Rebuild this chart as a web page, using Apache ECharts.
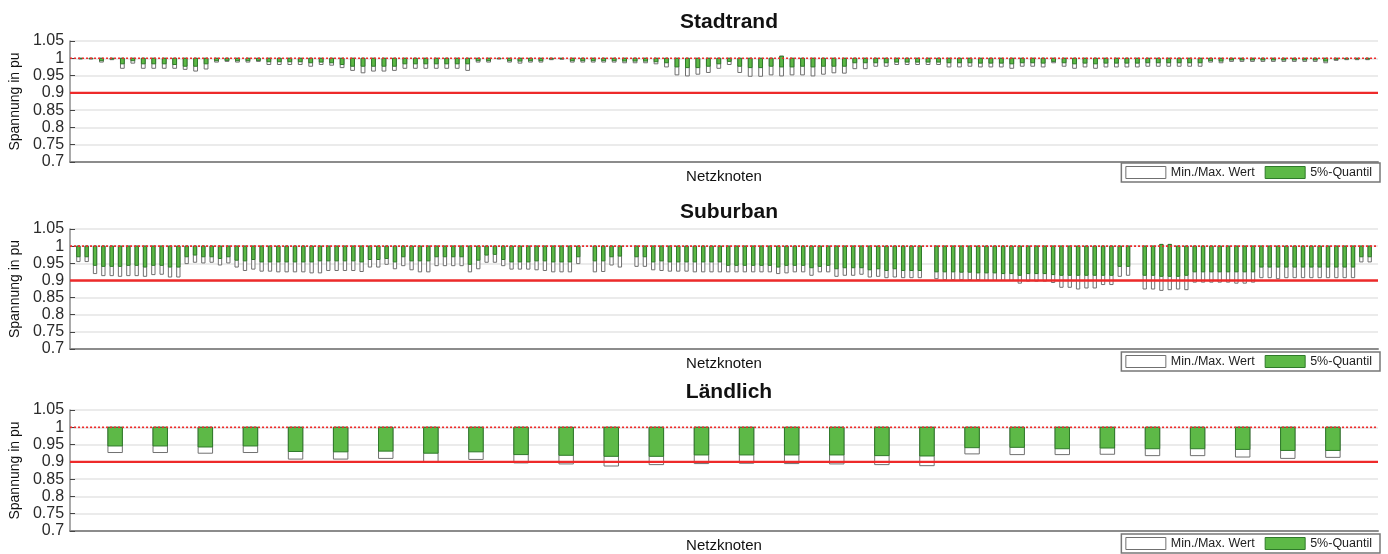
<!DOCTYPE html>
<html>
<head>
<meta charset="utf-8">
<script src="https://cdn.jsdelivr.net/npm/echarts@6/dist/echarts.min.js"></script>
<style>
  html, body { margin: 0; padding: 0; background: #ffffff; }
  #chart { width: 1388px; height: 554px; }
</style>
</head>
<body>
<div id="chart"></div>
<script>
// Voltage band per grid node: max, min and 5 % quantile (pu)

// --- Stadtrand: 124 nodes ---
const stadtMax = [
  1, 1, 1, 1, 1, 1, 1, 1, 1, 1,   1, 1, 1, 1, 1, 1, 1, 1, 1, 1,
  1, 1, 1, 1, 1, 1, 1, 1, 1, 1,   1, 1, 1, 1, 1, 1, 1, 1, 1, 1,
  1, 1, 1, 1, 1, 1, 1, 1, 1, 1,   1, 1, 1, 1, 1, 1, 1, 1, 1, 1,
  1, 1, 1, 1, 1, 1, 1, 1.006, 1, 1, 1, 1, 1, 1, 1, 1, 1, 1, 1, 1,
  1, 1, 1, 1, 1, 1, 1, 1, 1, 1,   1, 1, 1, 1, 1, 1, 1, 1, 1, 1,
  1, 1, 1, 1, 1, 1, 1, 1, 1, 1,   1, 1, 1, 1, 1, 1, 1, 1, 1, 1,
  1, 1, 1, 1
];
const stadtMin = [
  0.998, 0.998, 0.989, 0.996, 0.971, 0.986, 0.971, 0.971, 0.971, 0.971,
  0.968, 0.963, 0.969, 0.989, 0.991, 0.989, 0.989, 0.991, 0.982, 0.982,
  0.982, 0.982, 0.977, 0.982, 0.980, 0.973, 0.965, 0.958, 0.963, 0.963,
  0.965, 0.971, 0.971, 0.971, 0.971, 0.971, 0.971, 0.965, 0.989, 0.989,
  0.998, 0.989, 0.986, 0.989, 0.989, 0.996, 0.997, 0.989, 0.989, 0.989,
  0.989, 0.989, 0.987, 0.987, 0.987, 0.984, 0.975, 0.952, 0.949, 0.954,
  0.959, 0.971, 0.982, 0.959, 0.948, 0.948, 0.952, 0.949, 0.952, 0.952,
  0.949, 0.954, 0.958, 0.957, 0.970, 0.970, 0.977, 0.977, 0.982, 0.982,
  0.982, 0.982, 0.982, 0.975, 0.975, 0.977, 0.975, 0.975, 0.975, 0.971,
  0.977, 0.977, 0.975, 0.987, 0.977, 0.971, 0.975, 0.971, 0.975, 0.975,
  0.975, 0.975, 0.977, 0.977, 0.977, 0.977, 0.977, 0.977, 0.989, 0.987,
  0.991, 0.991, 0.991, 0.991, 0.991, 0.991, 0.991, 0.991, 0.991, 0.987,
  0.994, 0.996, 0.996, 0.996
];
const stadtQ5 = [
  0.999, 0.999, 0.993, 0.998, 0.984, 0.993, 0.984, 0.984, 0.984, 0.982,
  0.977, 0.977, 0.984, 0.993, 0.994, 0.993, 0.993, 0.994, 0.990, 0.990,
  0.990, 0.990, 0.987, 0.989, 0.987, 0.982, 0.977, 0.977, 0.977, 0.977,
  0.977, 0.984, 0.984, 0.984, 0.984, 0.984, 0.984, 0.984, 0.993, 0.993,
  0.999, 0.993, 0.992, 0.993, 0.993, 0.998, 0.999, 0.993, 0.993, 0.993,
  0.993, 0.993, 0.992, 0.992, 0.992, 0.990, 0.987, 0.975, 0.973, 0.973,
  0.977, 0.984, 0.991, 0.977, 0.973, 0.973, 0.977, 0.975, 0.975, 0.977,
  0.975, 0.977, 0.977, 0.977, 0.987, 0.987, 0.987, 0.987, 0.989, 0.989,
  0.989, 0.989, 0.989, 0.987, 0.987, 0.987, 0.986, 0.986, 0.986, 0.984,
  0.987, 0.987, 0.986, 0.991, 0.987, 0.984, 0.986, 0.984, 0.986, 0.986,
  0.986, 0.986, 0.987, 0.987, 0.987, 0.987, 0.987, 0.987, 0.993, 0.992,
  0.995, 0.995, 0.995, 0.995, 0.995, 0.995, 0.995, 0.995, 0.995, 0.992,
  0.997, 0.998, 0.998, 0.998
];

// --- Suburban: 156 node slots (null = no result) ---
const subMax = [
  1, 1, 1, 1, 1, 1, 1, 1, 1, 1,   1, 1, 1, 1, 1, 1, 1, 1, 1, 1,
  1, 1, 1, 1, 1, 1, 1, 1, 1, 1,   1, 1, 1, 1, 1, 1, 1, 1, 1, 1,
  1, 1, 1, 1, 1, 1, 1, 1, 1, 1,   1, 1, 1, 1, 1, 1, 1, 1, 1, 1,
  1, null, 1, 1, 1, 1, null, 1, 1, 1,   1, 1, 1, 1, 1, 1, 1, 1, 1, 1,
  1, 1, 1, 1, 1, 1, 1, 1, 1, 1,   1, 1, 1, 1, 1, 1, 1, 1, 1, 1,
  1, 1, null, 1, 1, 1, 1, 1, 1, 1,   1, 1, 1, 1, 1, 1, 1, 1, 1, 1,
  1, 1, 1, 1, 1, 1, 1, null, 1, 1,   1.005, 1.005, 1, 1, 1, 1, 1, 1, 1, 1,
  1, 1, 1, 1, 1, 1, 1, 1, 1, 1,   1, 1, 1, 1, 1, 1
];
const subMin = [
  0.955, 0.955, 0.920, 0.914, 0.914, 0.912, 0.914, 0.914, 0.912, 0.917,
  0.918, 0.910, 0.910, 0.949, 0.953, 0.951, 0.953, 0.945, 0.951, 0.939,
  0.929, 0.933, 0.927, 0.927, 0.925, 0.925, 0.925, 0.925, 0.922, 0.922,
  0.929, 0.929, 0.929, 0.929, 0.926, 0.939, 0.939, 0.947, 0.934, 0.943,
  0.931, 0.925, 0.925, 0.943, 0.943, 0.943, 0.943, 0.925, 0.934, 0.953,
  0.953, 0.943, 0.933, 0.933, 0.933, 0.931, 0.929, 0.925, 0.925, 0.925,
  0.949, null, 0.925, 0.926, 0.945, 0.939, null, 0.941, 0.941, 0.931,
  0.929, 0.927, 0.927, 0.927, 0.925, 0.925, 0.925, 0.925, 0.925, 0.925,
  0.925, 0.925, 0.925, 0.925, 0.920, 0.922, 0.925, 0.925, 0.915, 0.925,
  0.925, 0.912, 0.915, 0.915, 0.918, 0.910, 0.912, 0.908, 0.910, 0.908,
  0.908, 0.908, null, 0.905, 0.902, 0.902, 0.902, 0.902, 0.902, 0.900,
  0.900, 0.900, 0.900, 0.892, 0.898, 0.898, 0.898, 0.894, 0.880, 0.880,
  0.875, 0.878, 0.878, 0.888, 0.888, 0.912, 0.915, null, 0.875, 0.875,
  0.871, 0.873, 0.875, 0.873, 0.895, 0.895, 0.895, 0.895, 0.895, 0.892,
  0.892, 0.895, 0.908, 0.908, 0.905, 0.908, 0.908, 0.908, 0.908, 0.908,
  0.908, 0.908, 0.908, 0.908, 0.954, 0.954
];
const subQ5 = [
  0.969, 0.969, 0.944, 0.941, 0.941, 0.941, 0.944, 0.944, 0.939, 0.944,
  0.944, 0.939, 0.939, 0.969, 0.974, 0.969, 0.969, 0.964, 0.969, 0.959,
  0.957, 0.961, 0.954, 0.954, 0.954, 0.954, 0.954, 0.954, 0.954, 0.957,
  0.957, 0.957, 0.957, 0.957, 0.954, 0.961, 0.961, 0.964, 0.954, 0.969,
  0.957, 0.957, 0.957, 0.969, 0.969, 0.969, 0.969, 0.947, 0.959, 0.974,
  0.976, 0.961, 0.954, 0.954, 0.954, 0.957, 0.957, 0.954, 0.954, 0.954,
  0.969, null, 0.957, 0.957, 0.969, 0.971, null, 0.969, 0.969, 0.954,
  0.957, 0.954, 0.954, 0.954, 0.954, 0.954, 0.954, 0.954, 0.944, 0.944,
  0.944, 0.944, 0.944, 0.944, 0.939, 0.944, 0.944, 0.944, 0.937, 0.941,
  0.944, 0.934, 0.937, 0.937, 0.937, 0.931, 0.934, 0.929, 0.934, 0.929,
  0.929, 0.929, null, 0.925, 0.925, 0.925, 0.924, 0.924, 0.922, 0.922,
  0.922, 0.920, 0.920, 0.915, 0.920, 0.920, 0.920, 0.917, 0.915, 0.915,
  0.915, 0.915, 0.915, 0.915, 0.915, 0.941, 0.941, null, 0.915, 0.915,
  0.912, 0.912, 0.912, 0.915, 0.925, 0.925, 0.925, 0.925, 0.925, 0.925,
  0.925, 0.925, 0.939, 0.939, 0.939, 0.939, 0.939, 0.939, 0.939, 0.939,
  0.939, 0.939, 0.939, 0.939, 0.969, 0.969
];

// --- Ländlich: 28 nodes ---
const landMax = [
  1, 1, 1, 1, 1, 1, 1, 1, 1, 1, 1, 1, 1, 1,
  1, 1, 1, 1, 1, 1, 1, 1, 1, 1, 1, 1, 1, 1
];
const landMin = [
  0.927, 0.927, 0.925, 0.927, 0.908, 0.908, 0.910, 0.899, 0.907, 0.897,
  0.894, 0.888, 0.892, 0.895, 0.896, 0.895, 0.894, 0.892, 0.889, 0.923,
  0.921, 0.921, 0.922, 0.918, 0.918, 0.914, 0.910, 0.913
];
const landQ5 = [
  0.946, 0.946, 0.943, 0.946, 0.930, 0.929, 0.931, 0.925, 0.929, 0.921,
  0.919, 0.916, 0.916, 0.920, 0.920, 0.920, 0.920, 0.918, 0.917, 0.941,
  0.942, 0.938, 0.940, 0.938, 0.938, 0.936, 0.933, 0.933
];

const panelTitles = ['Stadtrand', 'Suburban', 'Ländlich'];
const yTicks = [0.7, 0.75, 0.8, 0.85, 0.9, 0.95, 1, 1.05];
const upperLimit = 1.0;   // nominal voltage
const lowerLimit = 0.9;   // permitted lower band
const legendNames = ['Min./Max. Wert', '5%-Quantil'];

const FONT = '"Liberation Sans", Arial, Helvetica, sans-serif';
const GREEN = '#5db947';
const GREEN_EDGE = '#2f7a2a';
const BOX_EDGE = '#707070';
const RED = '#ee2a2a';

const panels = [
  { title: panelTitles[0], max: stadtMax, min: stadtMin, q5: stadtQ5, top: 41,  height: 121, titleTop: 7,   legendTop: 163, frac: 0.36 },
  { title: panelTitles[1], max: subMax,   min: subMin,   q5: subQ5,   top: 229, height: 120, titleTop: 197, legendTop: 352, frac: 0.40 },
  { title: panelTitles[2], max: landMax,  min: landMin,  q5: landQ5,  top: 410, height: 121, titleTop: 377, legendTop: 534, frac: 0.32 }
];

function boxRenderer(frac, fill, stroke) {
  return function (params, api) {
    const x = api.value(0);
    const a = api.coord([x, api.value(1)]);
    const b = api.coord([x, api.value(2)]);
    const w = api.size([1, 0])[0] * frac;
    return {
      type: 'rect',
      shape: { x: a[0] - w / 2, y: a[1], width: w, height: b[1] - a[1] },
      style: { fill: fill, stroke: stroke, lineWidth: 1 }
    };
  };
}

const option = {
  animation: false,
  backgroundColor: '#ffffff',
  textStyle: { fontFamily: FONT },
  title: [], grid: [], xAxis: [], yAxis: [], legend: [], series: []
};

panels.forEach(function (p, k) {
  const n = p.max.length;
  const spanData = [], quantData = [];
  for (let i = 0; i < n; i++) {
    if (p.max[i] == null) continue;
    spanData.push([i + 1, p.max[i], p.min[i]]);
    quantData.push([i + 1, p.max[i], p.q5[i]]);
  }

  option.title.push({
    text: p.title, left: 724, top: p.titleTop, textAlign: 'center',
    textStyle: { fontSize: 21, fontWeight: 'bold', color: '#111', fontFamily: FONT }
  });
  option.grid.push({ left: 67, right: 10, top: p.top, height: p.height, containLabel: false });
  option.xAxis.push({
    gridIndex: k, type: 'value', min: 0, max: n + 1,
    name: 'Netzknoten', nameLocation: 'middle', nameGap: 7,
    nameTextStyle: { fontSize: 15, color: '#111', fontFamily: FONT, verticalAlign: 'top' },
    axisLine: { show: true, onZero: false, lineStyle: { color: '#8c8c8c', width: 2 } },
    axisTick: { show: false }, axisLabel: { show: false }, splitLine: { show: false }
  });
  option.yAxis.push({
    gridIndex: k, type: 'value', min: yTicks[0], max: yTicks[yTicks.length - 1], interval: 0.05,
    name: 'Spannung in pu', nameLocation: 'middle', nameGap: 45,
    nameTextStyle: { fontSize: 14, color: '#111', fontFamily: FONT },
    axisLine: { show: true, lineStyle: { color: '#8c8c8c', width: 1.5 } },
    axisTick: { show: true, inside: true, length: 5, lineStyle: { color: '#444', width: 1 } },
    axisLabel: {
      fontSize: 16, color: '#2a2a2a', margin: 6, fontFamily: FONT,
      formatter: function (v) { return String(Math.round(v * 100) / 100); }
    },
    splitLine: { show: true, lineStyle: { color: '#e4e4e4', width: 1.5 } }
  });
  option.legend.push({
    data: [
      { name: legendNames[0], itemStyle: { color: '#ffffff', borderColor: BOX_EDGE, borderWidth: 1 } },
      { name: legendNames[1], itemStyle: { color: GREEN, borderColor: GREEN_EDGE, borderWidth: 1 } }
    ],
    right: 8, top: p.legendTop, orient: 'horizontal', icon: 'rect',
    itemWidth: 40, itemHeight: 12, itemGap: 10, selectedMode: false,
    borderColor: '#777', borderWidth: 1.5, borderRadius: 0, padding: [3, 8, 3, 4],
    backgroundColor: '#ffffff',
    textStyle: { fontSize: 12.5, color: '#222', fontFamily: FONT }
  });

  option.series.push({
    name: legendNames[0], type: 'custom', xAxisIndex: k, yAxisIndex: k,
    renderItem: boxRenderer(p.frac, '#ffffff', BOX_EDGE),
    itemStyle: { color: '#ffffff', borderColor: BOX_EDGE },
    encode: { x: 0, y: [1, 2] }, data: spanData, z: 2, silent: true
  });
  option.series.push({
    name: legendNames[1], type: 'custom', xAxisIndex: k, yAxisIndex: k,
    renderItem: boxRenderer(p.frac, GREEN, GREEN_EDGE),
    itemStyle: { color: GREEN, borderColor: GREEN_EDGE },
    encode: { x: 0, y: [1, 2] }, data: quantData, z: 3, silent: true
  });
  option.series.push({
    name: 'upper', type: 'line', xAxisIndex: k, yAxisIndex: k, symbol: 'none', silent: true,
    data: [[0, upperLimit], [n + 1, upperLimit]], z: 5,
    lineStyle: { color: RED, width: 1.6, type: [2, 2] }
  });
  option.series.push({
    name: 'lower', type: 'line', xAxisIndex: k, yAxisIndex: k, symbol: 'none', silent: true,
    data: [[0, lowerLimit], [n + 1, lowerLimit]], z: 5,
    lineStyle: { color: RED, width: 2.4 }
  });
});

const chart = echarts.init(document.getElementById('chart'), null, { renderer: 'canvas' });
chart.setOption(option);
</script>
</body>
</html>
